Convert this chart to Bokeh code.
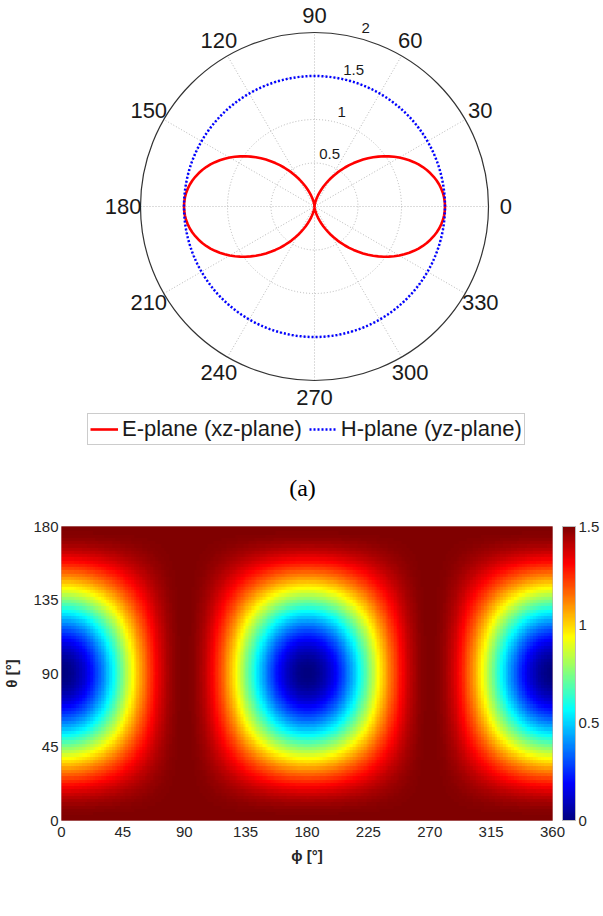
import numpy as np
from bokeh.plotting import figure
from bokeh.models import (Legend, LegendItem, LinearColorMapper, ColorBar,
                          FixedTicker, Label, Range1d)
from bokeh.embed import file_html
from bokeh.resources import INLINE
from bokeh.core.properties import value

# ---------------- data ----------------
ANGLE_STEP = 2  # degrees between samples
# E-plane cut: radius for angle 0..180 (pattern repeats for 180..360)
E_PLANE_R = [1.500, 1.498, 1.493, 1.484, 1.471, 1.455, 1.435, 1.412, 1.386, 1.357,
             1.325, 1.290, 1.252, 1.212, 1.169, 1.125, 1.079, 1.031, 0.982, 0.931,
             0.880, 0.828, 0.776, 0.724, 0.672, 0.620, 0.569, 0.518, 0.469, 0.421,
             0.375, 0.331, 0.288, 0.248, 0.211, 0.176, 0.143, 0.114, 0.088, 0.065,
             0.045, 0.029, 0.016, 0.007, 0.002, 0.000, 0.002, 0.007, 0.016, 0.029,
             0.045, 0.065, 0.088, 0.114, 0.143, 0.176, 0.211, 0.248, 0.288, 0.331,
             0.375, 0.421, 0.469, 0.518, 0.569, 0.620, 0.672, 0.724, 0.776, 0.828,
             0.880, 0.931, 0.982, 1.031, 1.079, 1.125, 1.169, 1.212, 1.252, 1.290,
             1.325, 1.357, 1.386, 1.412, 1.435, 1.455, 1.471, 1.484, 1.493, 1.498,
             1.500]
H_PLANE_LEVEL = 1.5   # H-plane cut is constant
RADIAL_TICKS = [0.5, 1.0, 1.5, 2.0]
RADIAL_LABELS = ["0.5", "1", "1.5", "2"]
ANGLE_TICKS = list(range(0, 360, 30))
PHI_TICKS = [0, 45, 90, 135, 180, 225, 270, 315, 360]
THETA_TICKS = [0, 45, 90, 135, 180]
CBAR_TICKS = [0, 0.5, 1, 1.5]
D_MAX = 1.5

# ---------------- derived tables ----------------
e_full = np.array(E_PLANE_R + E_PLANE_R[1:])          # 0..360
ang = np.deg2rad(np.arange(len(e_full)) * ANGLE_STEP)
h_full = np.full(len(e_full), H_PLANE_LEVEL)
e_theta = np.array(E_PLANE_R)                          # theta 0..180
grid = D_MAX - (D_MAX - e_theta[:, None]) * e_full[None, :] / D_MAX


def jet(n=256):
    out = []
    for i in range(n):
        t = i / (n - 1)
        r = min(max(1.5 - abs(4 * t - 3), 0), 1)
        g = min(max(1.5 - abs(4 * t - 2), 0), 1)
        b = min(max(1.5 - abs(4 * t - 1), 0), 1)
        out.append("#%02x%02x%02x" % (int(r * 255 + .5), int(g * 255 + .5), int(b * 255 + .5)))
    return out


FONT = "Liberation Sans"
SERIF = "Liberation Serif"

# ---------------- (a) polar plot ----------------
PX = 87.0
W1, H1 = 603, 508
CX, CY = 314, 206
p1 = figure(width=W1, height=H1, output_backend="svg", toolbar_location=None,
            x_range=Range1d(-CX / PX, (W1 - CX) / PX),
            y_range=Range1d(-(H1 - CY) / PX, CY / PX),
            x_axis_type=None, y_axis_type=None, min_border=0,
            outline_line_color=None)
p1.grid.visible = False

# grid circles
p1.circle(x=[0, 0, 0], y=[0, 0, 0], radius=RADIAL_TICKS[:3], fill_color=None,
          line_color="#b0b0b0", line_dash="1 2", line_width=0.9)
# spokes
sp = np.deg2rad(np.array(ANGLE_TICKS[:6]))
rmax = RADIAL_TICKS[-1]
p1.segment(x0=-rmax * np.cos(sp), y0=-rmax * np.sin(sp), x1=rmax * np.cos(sp),
           y1=rmax * np.sin(sp), line_color="#b0b0b0", line_dash="1 2", line_width=0.9)
# outer circle
p1.circle(x=[0], y=[0], radius=[rmax], fill_color=None, line_color="#333333", line_width=1.2)

# angle labels
la = np.deg2rad(np.array(ANGLE_TICKS))
p1.text(x=2.2 * np.cos(la), y=2.2 * np.sin(la), text=[str(a) for a in ANGLE_TICKS],
        text_align="center", text_baseline="middle", text_font=value(FONT),
        text_font_size="22px", text_color="#1a1a1a")
# radial labels
ra = np.deg2rad(74)
rr = np.array(RADIAL_TICKS) + 0.13
p1.text(x=rr * np.cos(ra), y=rr * np.sin(ra), text=RADIAL_LABELS,
        text_align="center", text_baseline="middle", text_font=value(FONT),
        text_font_size="15px", text_color="#1a1a1a")

r_e = p1.line(x=e_full * np.cos(ang), y=e_full * np.sin(ang), line_color="#ff0000",
              line_width=2.6)
r_h = p1.line(x=h_full * np.cos(ang), y=h_full * np.sin(ang), line_color="#0000ff",
              line_width=2.5, line_dash="2 2")

legend = Legend(items=[LegendItem(label="E-plane (xz-plane)", renderers=[r_e]),
                       LegendItem(label="H-plane (yz-plane)", renderers=[r_h])],
                orientation="horizontal", location=(87, 63),
                label_text_font=FONT, label_text_font_size="22px",
                label_text_color="#1a1a1a", glyph_width=28, glyph_height=18,
                label_standoff=4, spacing=7, padding=2, margin=0,
                border_line_color="#999999", border_line_width=1,
                label_height=18)
p1.add_layout(legend)

p1.add_layout(Label(x=302, y=21, x_units="screen", y_units="screen", text="(a)",
                    text_align="center", text_baseline="middle",
                    text_font=SERIF, text_font_size="24px", text_color="#000000"))

# ---------------- (b) heatmap ----------------
mapper = LinearColorMapper(palette=jet(256), low=0, high=D_MAX)
p2 = figure(width=603, height=408, output_backend="svg", toolbar_location=None,
            x_range=Range1d(0, 360), y_range=Range1d(0, 180),
            min_border_left=60, min_border_right=51, min_border_top=18,
            min_border_bottom=96, outline_line_color="#c8a0a0")
p2.grid.visible = False
p2.image(image=[grid], x=-ANGLE_STEP / 2, y=-ANGLE_STEP / 2,
         dw=360 + ANGLE_STEP, dh=180 + ANGLE_STEP, color_mapper=mapper)

p2.xaxis.ticker = FixedTicker(ticks=PHI_TICKS)
p2.yaxis.ticker = FixedTicker(ticks=THETA_TICKS)
for ax in (p2.xaxis[0], p2.yaxis[0]):
    ax.axis_line_color = None
    ax.major_tick_line_color = None
    ax.minor_tick_line_color = None
    ax.major_tick_out = 0
    ax.major_tick_in = 0
    ax.minor_tick_out = 0
    ax.minor_tick_in = 0
    ax.major_label_text_font = FONT
    ax.major_label_text_font_size = "15px"
    ax.major_label_text_color = "#262626"
    ax.axis_label_text_font = FONT
    ax.axis_label_text_font_size = "15px"
    ax.axis_label_text_font_style = "bold"
    ax.axis_label_text_color = "#262626"
p2.xaxis.axis_label = "ϕ [°]"
p2.yaxis.axis_label = "θ [°]"
p2.xaxis.major_label_standoff = 6
p2.yaxis.major_label_standoff = 3
p2.xaxis.axis_label_standoff = 7
p2.yaxis.axis_label_standoff = 10

cbar = ColorBar(color_mapper=mapper, ticker=FixedTicker(ticks=CBAR_TICKS),
                width=13, height=294, padding=0, margin=0, location=(10, 0),
                label_standoff=3,
                major_label_text_font=FONT, major_label_text_font_size="15px",
                major_label_text_color="#262626", major_tick_in=0,
                major_tick_line_color=None, bar_line_color="#bbbbbb",
                border_line_color=None, background_fill_color=None)
p2.add_layout(cbar, "right")

p2.add_layout(Label(x=180, y=-68, x_units="data", y_units="screen", text="(b)",
                    text_align="center", text_baseline="middle",
                    text_font=SERIF, text_font_size="24px", text_color="#000000"))

open("out.html", "w").write(file_html([p1, p2], INLINE))
